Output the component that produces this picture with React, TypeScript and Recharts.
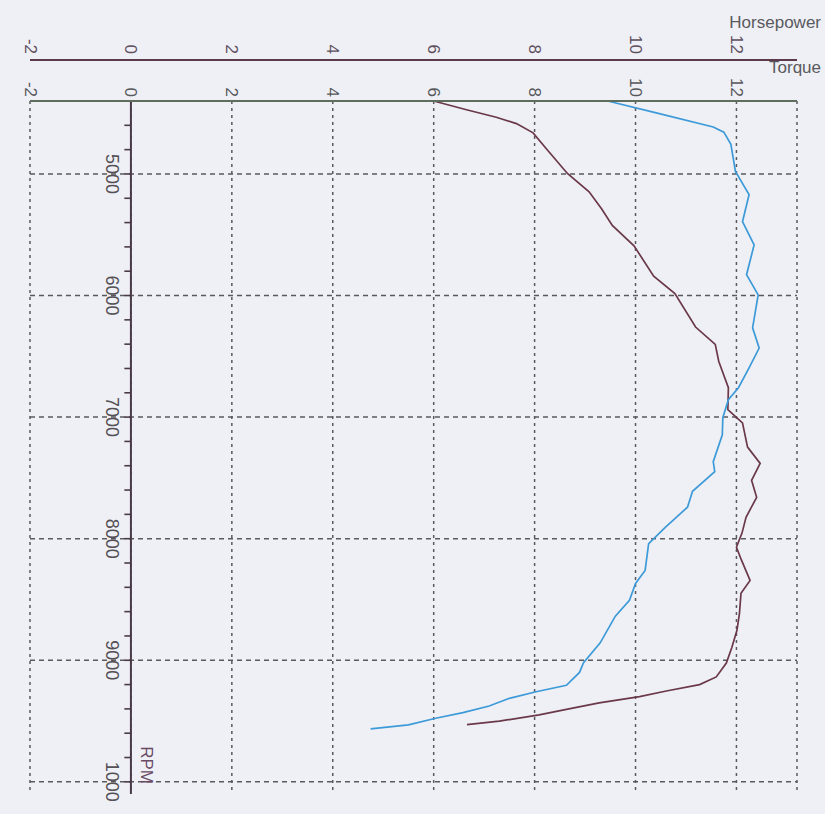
import React from 'react';
import { ComposedChart, Line, XAxis, YAxis, CartesianGrid, ReferenceLine, ReferenceDot } from 'recharts';

const torqueRpm = [4400, 4498, 4614, 4656, 4757, 4979, 5170, 5393, 5584, 5829, 5995, 6266, 6432, 6595, 6758, 6857, 7005, 7145, 7366, 7449, 7610, 7741, 7902, 8040, 8261, 8368, 8507, 8637, 8857, 9020, 9100, 9206, 9259, 9313, 9376, 9431, 9477, 9531, 9565];
const torqueValues = [9.45, 10.41, 11.54, 11.75, 11.89, 11.98, 12.25, 12.12, 12.35, 12.2, 12.43, 12.32, 12.45, 12.25, 12.04, 11.84, 11.73, 11.72, 11.54, 11.57, 11.13, 11.03, 10.6, 10.26, 10.19, 10.0, 9.88, 9.6, 9.3, 8.97, 8.89, 8.63, 8.03, 7.5, 7.1, 6.58, 6.04, 5.5, 4.75];

const horsepowerRpm = [4400, 4472, 4534, 4586, 4662, 4787, 4996, 5147, 5289, 5423, 5591, 5841, 5984, 6259, 6402, 6543, 6758, 6939, 7048, 7247, 7381, 7520, 7660, 7824, 7954, 8070, 8177, 8344, 8449, 8614, 8754, 8893, 9023, 9137, 9200, 9253, 9299, 9351, 9404, 9449, 9501, 9530];
const horsepowerValues = [6.0, 6.65, 7.24, 7.64, 7.97, 8.22, 8.65, 9.08, 9.33, 9.54, 9.97, 10.36, 10.78, 11.19, 11.58, 11.65, 11.84, 11.83, 12.12, 12.22, 12.47, 12.3, 12.4, 12.19, 12.11, 12.0, 12.1, 12.27, 12.09, 12.06, 12.01, 11.91, 11.8, 11.6, 11.27, 10.61, 10.08, 9.28, 8.63, 8.09, 7.3, 6.66];

const valueTicks = [-2, 0, 2, 4, 6, 8, 10, 12];
const rpmTicks = [5000, 6000, 7000, 8000, 9000, 10000];
const rpmTickLabels = ['5000', '6000', '7000', '8000', '9000', '1000'];
const rpmMinorTicks = [4600, 4800, 5000, 5200, 5400, 5600, 5800, 6000, 6200, 6400, 6600, 6800, 7000, 7200, 7400, 7600, 7800, 8000, 8200, 8400, 8600, 8800, 9000, 9200, 9400, 9600, 9800, 10000];
const minorTickLength = 0.13;

const torqueData = torqueRpm.map((rpm, i) => ({ rpm, v: torqueValues[i] }));
const horsepowerData = horsepowerRpm.map((rpm, i) => ({ rpm, v: horsepowerValues[i] }));

const FONT = '"Liberation Sans", Arial, sans-serif';
const T_ID = 'a_torque';
const H_ID = 'b_horsepower';

const makeTopTick = (color: string) => (props: any) => {
  const { x, y, payload } = props;
  return (
    <text
      x={x}
      y={y}
      transform={`rotate(90 ${x} ${y})`}
      textAnchor="end"
      dominantBaseline="central"
      fontFamily={FONT}
      fontSize={17}
      fill={color}
    >
      {payload.value}
    </text>
  );
};

const makeRpmLabel = (label: string) => (props: any) => {
  const { cx, cy } = props;
  const lx = cx - 19;
  return (
    <text
      x={lx}
      y={cy}
      transform={`rotate(90 ${lx} ${cy})`}
      textAnchor="middle"
      dominantBaseline="central"
      fontFamily={FONT}
      fontSize={18}
      fill="#555055"
    >
      {label}
    </text>
  );
};

const AxisName = (text: string, dy: number) => (props: any) => {
  const vb = props.viewBox;
  return (
    <text x={vb.x + vb.width + 24} y={vb.y + dy} textAnchor="end" fontFamily={FONT} fontSize={17} fill="#5a5a5e">
      {text}
    </text>
  );
};

const RpmName = (props: any) => {
  const vb = props.viewBox;
  const lx = vb.x + 16;
  const ly = vb.y + vb.height - 10;
  return (
    <text
      x={lx}
      y={ly}
      transform={`rotate(90 ${lx} ${ly})`}
      textAnchor="end"
      dominantBaseline="central"
      fontFamily={FONT}
      fontSize={17}
      fill="#6a4a66"
    >
      RPM
    </text>
  );
};

export default function App() {
  return (
    <div style={{ position: 'absolute', left: 0, top: 0, width: 825, height: 814, background: '#eef0f5' }}>
      <ComposedChart
        layout="vertical"
        width={825}
        height={814}
        margin={{ top: 20, right: 28, bottom: 20, left: 30 }}
      >
        <XAxis
          xAxisId={T_ID}
          orientation="top"
          type="number"
          dataKey="v"
          domain={[-2, 13.2]}
          ticks={valueTicks}
          height={41}
          tickLine={false}
          tickSize={0}
          tickMargin={4}
          axisLine={{ stroke: '#5f6e5c', strokeWidth: 2 }}
          tick={makeTopTick('#58585c')}
          label={{ content: AxisName('Torque', 13) }}
        />
        <XAxis
          xAxisId={H_ID}
          orientation="top"
          type="number"
          dataKey="v"
          domain={[-2, 13.2]}
          ticks={valueTicks}
          height={40}
          tickLine={false}
          tickSize={0}
          tickMargin={6}
          axisLine={{ stroke: '#5c3a4c', strokeWidth: 2 }}
          tick={makeTopTick('#5e4e5e')}
          label={{ content: AxisName('Horsepower', 8) }}
        />
        <YAxis
          type="number"
          dataKey="rpm"
          domain={[4400, 10100]}
          ticks={rpmTicks}
          hide
        />
        <CartesianGrid xAxisId={T_ID} horizontal={false} stroke="#5a5a5e" strokeWidth={1.5} strokeDasharray="3 4" />
        {rpmTicks.map((rpm) => (
          <ReferenceLine
            key={`g${rpm}`}
            xAxisId={T_ID}
            y={rpm}
            stroke="#5a5a5e"
            strokeWidth={1.5}
            strokeDasharray="5 4"
          />
        ))}
        <ReferenceLine xAxisId={T_ID} x={0} stroke="#4a3a48" strokeWidth={2} label={{ content: RpmName }} />
        {rpmMinorTicks.map((rpm) => (
          <ReferenceLine
            key={`m${rpm}`}
            xAxisId={T_ID}
            segment={[
              { x: -minorTickLength, y: rpm },
              { x: 0, y: rpm },
            ]}
            stroke="#4a3a48"
            strokeWidth={1.6}
            ifOverflow="visible"
          />
        ))}
        {rpmTicks.map((rpm, i) => (
          <ReferenceDot
            key={`l${rpm}`}
            xAxisId={T_ID}
            x={0}
            y={rpm}
            r={0}
            ifOverflow="visible"
            shape={makeRpmLabel(rpmTickLabels[i])}
          />
        ))}
        <Line
          xAxisId={H_ID}
          data={horsepowerData}
          dataKey="v"
          type="linear"
          stroke="#6a3848"
          strokeWidth={1.7}
          dot={false}
          activeDot={false}
          isAnimationActive={false}
        />
        <Line
          xAxisId={T_ID}
          data={torqueData}
          dataKey="v"
          type="linear"
          stroke="#3d9ad8"
          strokeWidth={1.7}
          dot={false}
          activeDot={false}
          isAnimationActive={false}
        />
      </ComposedChart>
    </div>
  );
}
